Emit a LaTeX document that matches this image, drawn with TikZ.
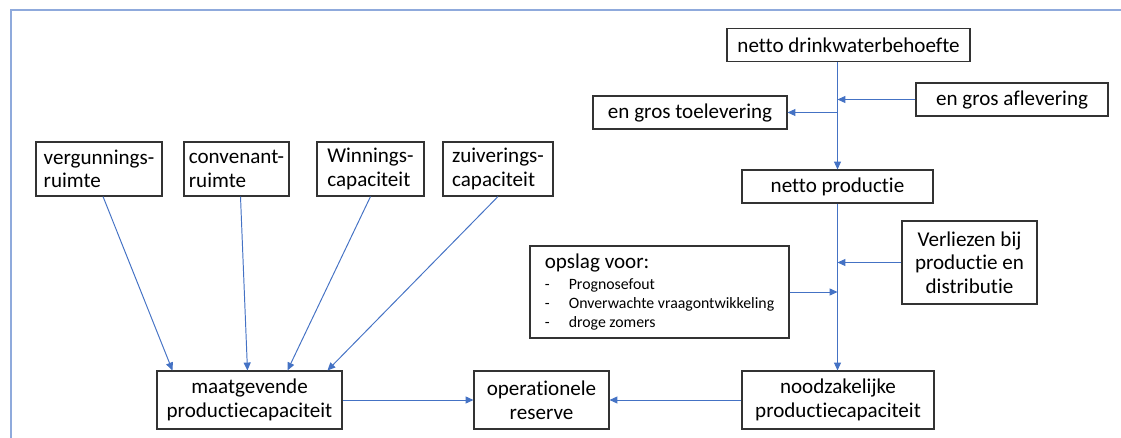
\documentclass[tikz,border=0pt]{standalone}
\usepackage{fontspec}
\setmainfont{Carlito}[Ligatures=NoCommon]
\usetikzlibrary{arrows.meta,calc}
\definecolor{pijlblauw}{RGB}{68,114,196}
\definecolor{kaderblauw}{RGB}{143,170,220}
\newcommand{\streep}{\makebox[0.48cm][l]{-}}

\begin{document}
\begin{tikzpicture}[x=0.02cm,y=-0.02cm,
  >={Triangle[length=4.5pt,width=4pt]},
  blok/.style={draw=black!80,line width=0.6pt,inner sep=0pt,align=center,
    font=\fontsize{12}{13.4}\selectfont},
  lblok/.style={blok,align=left},
  pijl/.style={->,draw=pijlblauw,line width=0.55pt}]
\useasboundingbox (0,0) rectangle (1121,438);
\draw[kaderblauw,line width=1pt] (11,438) -- (11,10) -- (1121,10);

% rechter keten
\node[blok,minimum width=243*0.02cm,minimum height=33.5*0.02cm] (behoefte) at (848.5,45.2) {netto drinkwaterbehoefte};
\node[blok,minimum width=192*0.02cm,minimum height=33*0.02cm] (aflevering) at (1012,99.5) {en gros aflevering};
\node[blok,minimum width=194*0.02cm,minimum height=33*0.02cm] (toelevering) at (690,112.5) {en gros toelevering};
\node[blok,minimum width=191*0.02cm,minimum height=33*0.02cm] (nettoprod) at (837.5,186.5) {netto productie};
\node[blok,minimum width=135*0.02cm,minimum height=83*0.02cm] (verliezen) at (969.5,262.5) {Verliezen bij\\productie en\\distributie};
\node[blok,align=left,font=\fontsize{9}{11}\selectfont,
  minimum width=259*0.02cm,minimum height=92*0.02cm] (opslag) at (659.5,292)
  {{\fontsize{12}{13.4}\selectfont opslag voor:}\\[1pt]
   \streep Prognosefout\\
   \streep Onverwachte vraagontwikkeling\\
   \streep droge zomers};
\node[blok,minimum width=192*0.02cm,minimum height=58*0.02cm] (noodzakelijk) at (838,400) {noodzakelijke\\productiecapaciteit};
\node[blok,minimum width=135*0.02cm,minimum height=58*0.02cm] (reserve) at (541.5,400) {operationele\\reserve};
\node[blok,minimum width=185*0.02cm,minimum height=58*0.02cm] (maatgevend) at (249.5,400) {maatgevende\\productiecapaciteit};

% linker bovenrij
\node[lblok,minimum width=126*0.02cm,minimum height=54*0.02cm] (vergunning) at (99,169) {vergunnings-\\ruimte};
\node[lblok,minimum width=105*0.02cm,minimum height=54*0.02cm] (convenant) at (236.5,169) {convenant-\\ruimte};
\node[lblok,minimum width=107*0.02cm,minimum height=54*0.02cm] (winning) at (370.5,169) {Winnings-\\capaciteit};
\node[lblok,minimum width=110*0.02cm,minimum height=54*0.02cm] (zuivering) at (498,169) {zuiverings-\\capaciteit};

\draw[pijl] (nettoprod.north |- behoefte.south) -- (nettoprod.north);
\draw[pijl] (aflevering.west) -- (aflevering.west -| nettoprod.north);
\draw[pijl] (toelevering.east -| nettoprod.north) -- (toelevering.east);
\draw[pijl] (nettoprod.south) -- (noodzakelijk.north -| nettoprod.south);
\draw[pijl] (verliezen.west) -- (verliezen.west -| nettoprod.south);
\draw[pijl] (opslag.east) -- (opslag.east -| nettoprod.south);
\draw[pijl] (noodzakelijk.west) -- (reserve.east);
\draw[pijl] (maatgevend.east) -- (reserve.west);

\draw[pijl] ($(vergunning.south)+(4,0)$) -- ($(maatgevend.north west)+(16,0)$);
\draw[pijl] ($(convenant.south)+(4,0)$) -- ($(maatgevend.north west)+(91,0)$);
\draw[pijl] (winning.south) -- ($(maatgevend.north west)+(131,0)$);
\draw[pijl] (zuivering.south) -- ($(maatgevend.north west)+(171,0)$);
\end{tikzpicture}
\end{document}
